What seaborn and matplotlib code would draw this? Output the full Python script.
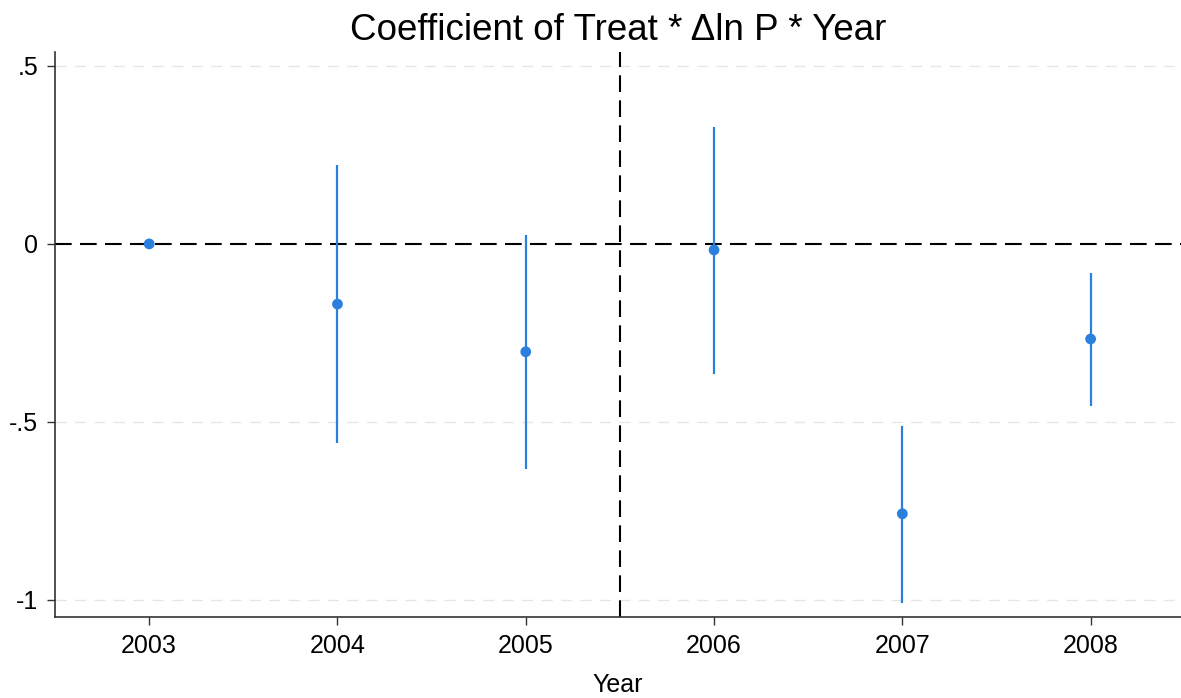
#!/usr/bin/env python3
# event-study style coefficient plot: Treat * dln P * Year

import seaborn as sns
import pandas as pd
import matplotlib.pyplot as plt

years = [2003, 2004, 2005, 2006, 2007, 2008]
coef = [0.0, -0.169, -0.303, -0.017, -0.758, -0.267]
ci_low = [0.0, -0.559, -0.632, -0.365, -1.008, -0.455]
ci_high = [0.0, 0.222, 0.025, 0.329, -0.511, -0.081]

yticks = [0.5, 0, -0.5, -1]
ytick_labels = ['.5', '0', '-.5', '-1']

blue = '#2b7fdd'


def create_plot(output='out.png'):
    sns.set_theme(style='white')
    plt.rcParams['font.family'] = ['Liberation Sans', 'DejaVu Sans']
    plt.rcParams['text.color'] = 'black'
    plt.rcParams['axes.labelcolor'] = 'black'
    plt.rcParams['xtick.color'] = 'black'
    plt.rcParams['ytick.color'] = 'black'

    df = pd.DataFrame({'Year': years, 'coef': coef,
                       'lo': ci_low, 'hi': ci_high})

    fig = plt.figure(figsize=(11.81, 6.98), dpi=100)
    ax = fig.add_axes([0.0466, 0.116, 0.9534, 0.8095])

    # light grid
    for y in yticks:
        if y != 0:
            ax.axhline(y, color='#e6e6e6', lw=1.0, ls=(0, (8, 6)), zorder=0)

    ax.axhline(0, color='black', lw=1.5, ls=(0, (8, 4)), zorder=1)
    ax.axvline(2005.5, color='black', lw=1.5, ls=(0, (8, 4)), zorder=1)

    ci = df[df['Year'] != 2003]
    ax.vlines(ci['Year'], ci['lo'], ci['hi'], color=blue, lw=1.6, zorder=2)
    sns.scatterplot(data=df, x='Year', y='coef', color=blue, s=60,
                    edgecolor='none', ax=ax, zorder=3)

    ax.set_xlim(2002.5, 2008.48)
    ax.set_ylim(-1.048, 0.539)
    ax.set_xticks(years)
    ax.set_xticklabels([str(y) for y in years], fontsize=18)
    ax.set_yticks(yticks)
    ax.set_yticklabels(ytick_labels, fontsize=18)
    ax.tick_params(axis='both', direction='out', length=6, width=1,
                   color='#333333', left=True, bottom=True, pad=6)

    ax.set_xlabel('Year', fontsize=18, labelpad=11)
    ax.set_ylabel('')
    ax.set_title('Coefficient of Treat * \u0394ln P * Year', fontsize=26.5, pad=9)

    for side in ['top', 'right']:
        ax.spines[side].set_visible(False)
    for side in ['left', 'bottom']:
        ax.spines[side].set_color('#333333')
        ax.spines[side].set_linewidth(1.2)

    fig.savefig(output, dpi=100)


if __name__ == '__main__':
    create_plot()
